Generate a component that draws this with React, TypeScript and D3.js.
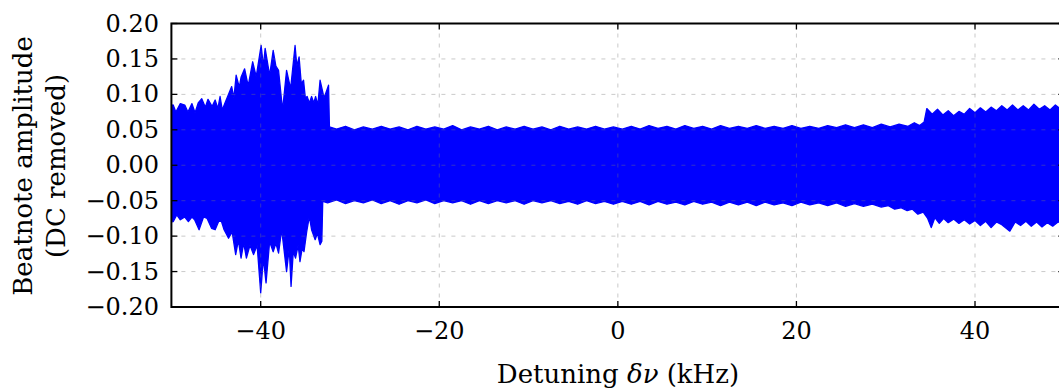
import React from 'react';
import * as d3 from 'd3';

// Upper envelope of the beatnote signal: [detuning kHz, amplitude]
const upperEnvelope: [number, number][] = [
  [-50.2, 0.084], [-49.8, 0.085], [-49.5, 0.075], [-49.0, 0.087], [-48.5, 0.085], [-48.15, 0.075],
  [-47.7, 0.087], [-47.35, 0.074], [-47.0, 0.088], [-46.6, 0.094], [-46.2, 0.082], [-45.9, 0.093],
  [-45.45, 0.083], [-45.1, 0.092], [-44.8, 0.080], [-44.55, 0.097], [-44.3, 0.078], [-44.0, 0.088],
  [-43.6, 0.100], [-43.25, 0.111], [-43.0, 0.095], [-42.75, 0.127], [-42.4, 0.110], [-42.2, 0.124],
  [-41.8, 0.136], [-41.4, 0.112], [-40.9, 0.146], [-40.5, 0.125], [-39.95, 0.169], [-39.7, 0.140],
  [-39.5, 0.165], [-39.0, 0.127], [-38.6, 0.162], [-38.3, 0.140], [-38.0, 0.134], [-37.55, 0.078],
  [-37.1, 0.134], [-36.65, 0.108], [-36.15, 0.169], [-35.95, 0.140], [-35.7, 0.153], [-35.45, 0.115],
  [-35.2, 0.120], [-35.0, 0.095], [-34.8, 0.097], [-34.55, 0.088], [-34.3, 0.097], [-34.05, 0.088],
  [-33.85, 0.097], [-33.6, 0.085], [-33.35, 0.120], [-32.9, 0.095], [-32.4, 0.113], [-32.3, 0.054],
  [-31.5, 0.051], [-30.5, 0.055], [-29.5, 0.050], [-28.5, 0.054], [-27.5, 0.051], [-26.5, 0.055],
  [-25.5, 0.051], [-24.5, 0.054], [-23.5, 0.050], [-22.5, 0.055], [-21.5, 0.051], [-20.5, 0.054],
  [-19.5, 0.051], [-18.5, 0.056], [-17.5, 0.050], [-16.5, 0.054], [-15.5, 0.051], [-14.5, 0.055],
  [-13.5, 0.050], [-12.5, 0.054], [-11.5, 0.051], [-10.5, 0.055], [-9.5, 0.051], [-8.5, 0.054],
  [-7.5, 0.050], [-6.5, 0.055], [-5.5, 0.051], [-4.5, 0.054], [-3.5, 0.051], [-2.5, 0.055],
  [-1.5, 0.051], [-0.5, 0.054], [0.5, 0.051], [1.5, 0.055], [2.5, 0.051], [3.5, 0.056],
  [4.5, 0.052], [5.5, 0.055], [6.5, 0.051], [7.5, 0.056], [8.5, 0.052], [9.5, 0.055],
  [10.5, 0.051], [11.5, 0.056], [12.5, 0.052], [13.5, 0.055], [14.5, 0.052], [15.5, 0.056],
  [16.5, 0.052], [17.5, 0.055], [18.5, 0.052], [19.5, 0.056], [20.5, 0.052], [21.5, 0.055],
  [22.5, 0.052], [23.5, 0.056], [24.5, 0.053], [25.5, 0.057], [26.5, 0.053], [27.5, 0.057],
  [28.5, 0.053], [29.5, 0.058], [30.5, 0.054], [31.5, 0.058], [32.5, 0.055], [33.2, 0.060],
  [33.8, 0.056], [34.3, 0.061], [34.6, 0.080], [35.2, 0.072], [35.8, 0.079], [36.4, 0.071],
  [37.0, 0.077], [37.6, 0.070], [38.2, 0.076], [38.8, 0.072], [39.4, 0.080], [40.0, 0.074],
  [40.6, 0.081], [41.2, 0.075], [41.8, 0.082], [42.4, 0.077], [43.0, 0.084], [43.6, 0.078],
  [44.2, 0.085], [44.8, 0.078], [45.4, 0.084], [46.0, 0.078], [46.6, 0.086], [47.2, 0.079],
  [47.8, 0.084], [48.4, 0.078], [49.0, 0.085], [49.6, 0.079], [50.3, 0.084],
];

// Lower envelope of the beatnote signal: [detuning kHz, amplitude]
const lowerEnvelope: [number, number][] = [
  [-50.2, -0.080], [-49.8, -0.0795], [-49.4, -0.070], [-49.0, -0.077], [-48.5, -0.073], [-48.1, -0.0795],
  [-47.7, -0.073], [-47.4, -0.077], [-46.9, -0.091], [-46.4, -0.073], [-46.0, -0.075], [-45.5, -0.089],
  [-45.1, -0.091], [-44.7, -0.079], [-44.4, -0.079], [-44.1, -0.091], [-43.6, -0.103], [-43.2, -0.094],
  [-42.8, -0.126], [-42.5, -0.106], [-42.2, -0.131], [-41.9, -0.110], [-41.6, -0.131], [-41.2, -0.113],
  [-40.8, -0.126], [-40.4, -0.113], [-40.0, -0.180], [-39.7, -0.131], [-39.4, -0.166], [-39.0, -0.108],
  [-38.6, -0.122], [-38.3, -0.110], [-38.0, -0.124], [-37.65, -0.091], [-37.1, -0.150], [-36.8, -0.117],
  [-36.6, -0.171], [-36.35, -0.122], [-36.1, -0.131], [-35.8, -0.113], [-35.6, -0.136], [-35.35, -0.117],
  [-35.15, -0.122], [-34.85, -0.094], [-34.55, -0.072], [-34.3, -0.091], [-33.9, -0.105], [-33.65, -0.096],
  [-33.35, -0.112], [-33.15, -0.107], [-33.05, -0.051], [-32.5, -0.053], [-31.5, -0.049], [-30.5, -0.054],
  [-29.5, -0.050], [-28.5, -0.053], [-27.5, -0.049], [-26.5, -0.054], [-25.5, -0.050], [-24.5, -0.055],
  [-23.5, -0.050], [-22.5, -0.053], [-21.5, -0.049], [-20.5, -0.054], [-19.5, -0.050], [-18.5, -0.053],
  [-17.5, -0.050], [-16.5, -0.055], [-15.5, -0.050], [-14.5, -0.054], [-13.5, -0.050], [-12.5, -0.053],
  [-11.5, -0.050], [-10.5, -0.055], [-9.5, -0.050], [-8.5, -0.053], [-7.5, -0.050], [-6.5, -0.054],
  [-5.5, -0.051], [-4.5, -0.055], [-3.5, -0.050], [-2.5, -0.054], [-1.5, -0.051], [-0.5, -0.055],
  [0.5, -0.051], [1.5, -0.055], [2.5, -0.051], [3.5, -0.056], [4.5, -0.051], [5.5, -0.055],
  [6.5, -0.052], [7.5, -0.056], [8.5, -0.051], [9.5, -0.055], [10.5, -0.052], [11.5, -0.057],
  [12.5, -0.052], [13.5, -0.056], [14.5, -0.052], [15.5, -0.057], [16.5, -0.052], [17.5, -0.056],
  [18.5, -0.053], [19.5, -0.057], [20.5, -0.052], [21.5, -0.056], [22.5, -0.053], [23.5, -0.057],
  [24.5, -0.053], [25.5, -0.058], [26.5, -0.054], [27.5, -0.058], [28.5, -0.055], [29.5, -0.059],
  [30.3, -0.057], [31.0, -0.062], [31.7, -0.060], [32.4, -0.064], [33.0, -0.062], [33.6, -0.069],
  [34.2, -0.066], [34.7, -0.075], [35.1, -0.088], [35.5, -0.074], [36.0, -0.082], [36.5, -0.075],
  [37.0, -0.081], [37.6, -0.076], [38.2, -0.082], [38.8, -0.077], [39.4, -0.083], [40.0, -0.078],
  [40.6, -0.085], [41.2, -0.079], [41.8, -0.088], [42.4, -0.080], [43.0, -0.084], [43.9, -0.093],
  [44.5, -0.080], [45.1, -0.085], [45.7, -0.079], [46.3, -0.086], [46.9, -0.080], [47.5, -0.087],
  [48.1, -0.081], [48.7, -0.086], [49.3, -0.080], [50.3, -0.085],
];

const xTickValues = [-40, -20, 0, 20, 40];
const yTickValues = [-0.2, -0.15, -0.1, -0.05, 0, 0.05, 0.1, 0.15, 0.2];
const yLabelLines = ['Beatnote amplitude', '(DC removed)'];

const FONT = '"DejaVu Serif", serif';

export default function App() {
  const W = 1059;
  const H = 390;
  const left = 171.4;
  const right = 1064.3;
  const top = 23.5;
  const bottom = 307;
  const x = d3.scaleLinear().domain([-50, 50]).range([left, right]);
  const y = d3.scaleLinear().domain([-0.2, 0.2]).range([bottom, top]);

  const lowerRev = [...lowerEnvelope].reverse();
  const line = d3.line<[number, number]>().x((d) => x(d[0])).y((d) => y(d[1]));
  const bandPath = (line([...upperEnvelope, ...lowerRev]) || '') + 'Z';

  const fmtY = (v: number) => {
    const s = Math.abs(v).toFixed(2);
    return v < -1e-9 ? '\u2212' + s : s;
  };
  const fmtX = (v: number) => (v < 0 ? '\u2212' + Math.abs(v) : String(v));
  const tickLen = 6;

  return (
    <svg width={W} height={H} style={{ position: 'absolute', left: 0, top: 0, background: '#fff' }}>
      <defs>
        <clipPath id="plotclip">
          <rect x={left} y={top} width={right - left} height={bottom - top} />
        </clipPath>
      </defs>
      <rect x={0} y={0} width={W} height={H} fill="#fff" />
      <g clipPath="url(#plotclip)">
        <path d={bandPath} fill="#0000ff" stroke="#0000ff" strokeWidth={1.3} strokeLinejoin="round" />
      </g>
      {/* grid drawn on top */}
      <g stroke="#777" strokeOpacity={0.4} strokeWidth={1} strokeDasharray="4,6">
        {xTickValues.map((t) => (
          <line key={'gx' + t} x1={x(t)} x2={x(t)} y1={top} y2={bottom} />
        ))}
        {yTickValues.slice(1, -1).map((t) => (
          <line key={'gy' + t} x1={left} x2={right} y1={y(t)} y2={y(t)} />
        ))}
      </g>
      {/* ticks */}
      <g stroke="#000" strokeWidth={1.3}>
        {xTickValues.map((t) => (
          <g key={'tx' + t}>
            <line x1={x(t)} x2={x(t)} y1={bottom} y2={bottom - tickLen} />
            <line x1={x(t)} x2={x(t)} y1={top} y2={top + tickLen} />
          </g>
        ))}
        {yTickValues.map((t) => (
          <g key={'ty' + t}>
            <line x1={left} x2={left + tickLen} y1={y(t)} y2={y(t)} />
            <line x1={right} x2={right - tickLen} y1={y(t)} y2={y(t)} />
          </g>
        ))}
      </g>
      <rect x={left} y={top} width={right - left} height={bottom - top} fill="none" stroke="#000" strokeWidth={2} />
      {/* tick labels */}
      <g fontFamily={FONT} fontSize={24} fill="#000">
        {xTickValues.map((t) => (
          <text key={'lx' + t} x={x(t)} y={339} textAnchor="middle">
            {fmtX(t)}
          </text>
        ))}
        {yTickValues.map((t) => (
          <text key={'ly' + t} x={159} y={y(t)} textAnchor="end" dominantBaseline="central">
            {fmtY(t)}
          </text>
        ))}
      </g>
      <text x={618} y={383} textAnchor="middle" fontFamily={FONT} fontSize={26} fill="#000">
        Detuning <tspan fontStyle="italic">δν</tspan> (kHz)
      </text>
      <g fontFamily={FONT} fontSize={26} fill="#000">
        <text transform={`translate(32,166) rotate(-90)`} textAnchor="middle">
          {yLabelLines[0]}
        </text>
        <text transform={`translate(65,166) rotate(-90)`} textAnchor="middle">
          {yLabelLines[1]}
        </text>
      </g>
    </svg>
  );
}
